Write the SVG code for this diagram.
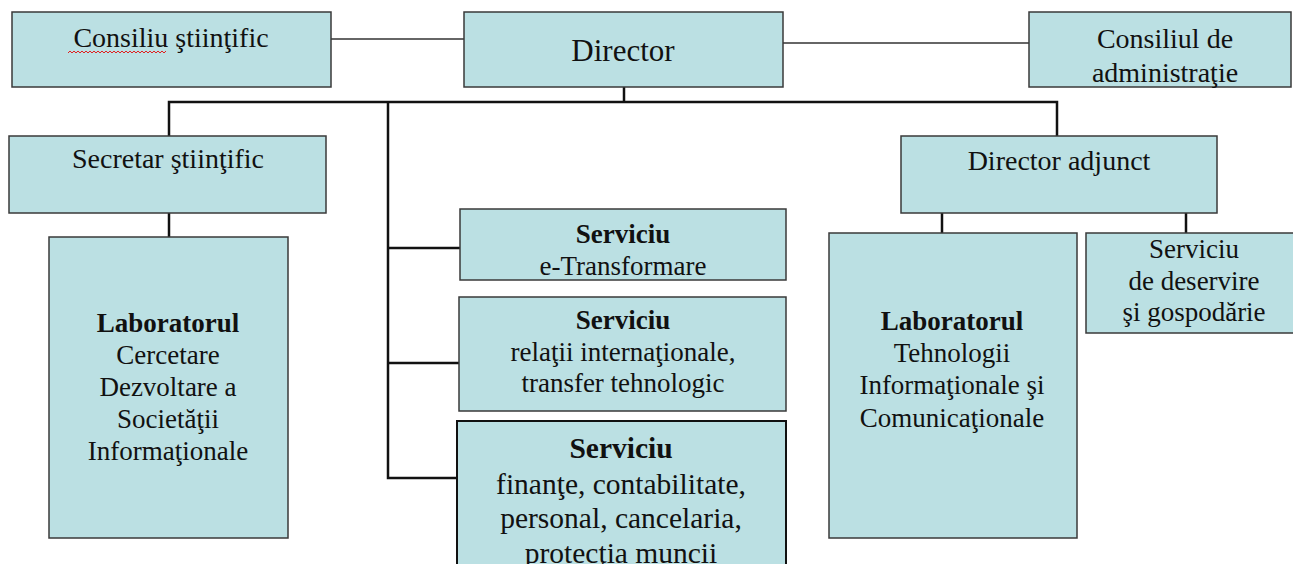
<svg xmlns="http://www.w3.org/2000/svg" width="1293" height="564" viewBox="0 0 1293 564">
<style>
.box{fill:#BBE0E3;stroke:#3a3a3a;stroke-width:1.5}
.boxb{fill:#BBE0E3;stroke:#111;stroke-width:2}
.t{font-family:"Liberation Serif","Times New Roman",serif;fill:#111;text-anchor:middle}
.s28{font-size:28px}
.s27{font-size:27px}
.s30{font-size:29.5px}
.s31{font-size:31px}
.b{font-weight:bold}
.con{fill:none;stroke:#111;stroke-width:2.5}
.thin{fill:none;stroke:#333;stroke-width:1.3}
</style>
<rect width="1293" height="564" fill="#ffffff"/>
<g id="connectors">
<line class="thin" x1="331" y1="39" x2="464" y2="39" style="stroke:#666;stroke-width:1.8"/>
<line class="thin" x1="783" y1="43" x2="1029" y2="43"/>
<polyline class="con" points="624,87 624,102"/>
<polyline class="con" points="169,136 169,102 1057,102 1057,136"/>
<polyline class="con" points="388,102 388,478 457,478"/>
<line class="con" x1="388" y1="248" x2="460" y2="248"/>
<line class="con" x1="388" y1="363" x2="459" y2="363"/>
<line class="con" x1="169" y1="213" x2="169" y2="237"/>
<line class="con" x1="942" y1="213" x2="942" y2="233"/>
<line class="con" x1="1186" y1="213" x2="1186" y2="233"/>
</g>
<g id="consiliu-stiintific">
<rect class="box" x="12" y="12" width="319" height="75"/>
<text class="t s28" x="171" y="47">Consiliu ştiinţific</text>
<path d="M68,53 l2,-2 l2,2 l2,-2 l2,2 l2,-2 l2,2 l2,-2 l2,2 l2,-2 l2,2 l2,-2 l2,2 l2,-2 l2,2 l2,-2 l2,2 l2,-2 l2,2 l2,-2 l2,2 l2,-2 l2,2 l2,-2 l2,2 l2,-2 l2,2 l2,-2 l2,2 l2,-2 l2,2 l2,-2 l2,2 l2,-2 l2,2 l2,-2 l2,2 l2,-2 l2,2 l2,-2 l2,2 l2,-2 l2,2 l2,-2 l2,2 l2,-2 l2,2 l2,-2 l2,2 l2,-2" fill="none" stroke="#e02020" stroke-width="1"/>
</g>
<g id="director">
<rect class="box" x="464" y="12" width="319" height="75"/>
<text class="t s31" x="623" y="61">Director</text>
</g>
<g id="consiliul-administratie">
<rect class="box" x="1029" y="12" width="262" height="75"/>
<text class="t s28" x="1165" y="48">Consiliul de</text>
<text class="t s28" x="1165" y="82">administraţie</text>
</g>
<g id="secretar-stiintific">
<rect class="box" x="9" y="136" width="317" height="77"/>
<text class="t s28" x="168" y="168">Secretar ştiinţific</text>
</g>
<g id="director-adjunct">
<rect class="box" x="901" y="136" width="316" height="77"/>
<text class="t s28" x="1059" y="170">Director adjunct</text>
</g>
<g id="laborator-cercetare">
<rect class="box" x="49" y="237" width="239" height="301"/>
<text class="t s27 b" x="168" y="332">Laboratorul</text>
<text class="t s27" x="168" y="364">Cercetare</text>
<text class="t s27" x="168" y="396">Dezvoltare a</text>
<text class="t s27" x="168" y="428">Societăţii</text>
<text class="t s27" x="168" y="460">Informaţionale</text>
</g>
<g id="serviciu-etransformare">
<rect class="box" x="460" y="209" width="326" height="71"/>
<text class="t s27 b" x="623" y="243">Serviciu</text>
<text class="t s27" x="623" y="275">e-Transformare</text>
</g>
<g id="serviciu-relatii">
<rect class="box" x="459" y="297" width="327" height="114"/>
<text class="t s27 b" x="623" y="329">Serviciu</text>
<text class="t s27" x="623" y="361">relaţii internaţionale,</text>
<text class="t s27" x="623" y="392">transfer tehnologic</text>
</g>
<g id="serviciu-finante">
<rect class="boxb" x="457" y="421" width="329" height="160"/>
<text class="t s30 b" x="621" y="458">Serviciu</text>
<text class="t s30" x="621" y="494">finanţe, contabilitate,</text>
<text class="t s30" x="621" y="528">personal, cancelaria,</text>
<text class="t s30" x="621" y="563">protecţia muncii</text>
</g>
<g id="laborator-tehnologii">
<rect class="box" x="829" y="233" width="248" height="305"/>
<text class="t s27 b" x="952" y="330">Laboratorul</text>
<text class="t s27" x="952" y="362">Tehnologii</text>
<text class="t s27" x="952" y="394">Informaţionale şi</text>
<text class="t s27" x="952" y="427">Comunicaţionale</text>
</g>
<g id="serviciu-deservire">
<rect class="box" x="1086" y="233" width="212" height="100"/>
<text class="t s27" x="1194" y="258">Serviciu</text>
<text class="t s27" x="1194" y="290">de deservire</text>
<text class="t s27" x="1194" y="321">şi gospodărie</text>
</g>
</svg>
